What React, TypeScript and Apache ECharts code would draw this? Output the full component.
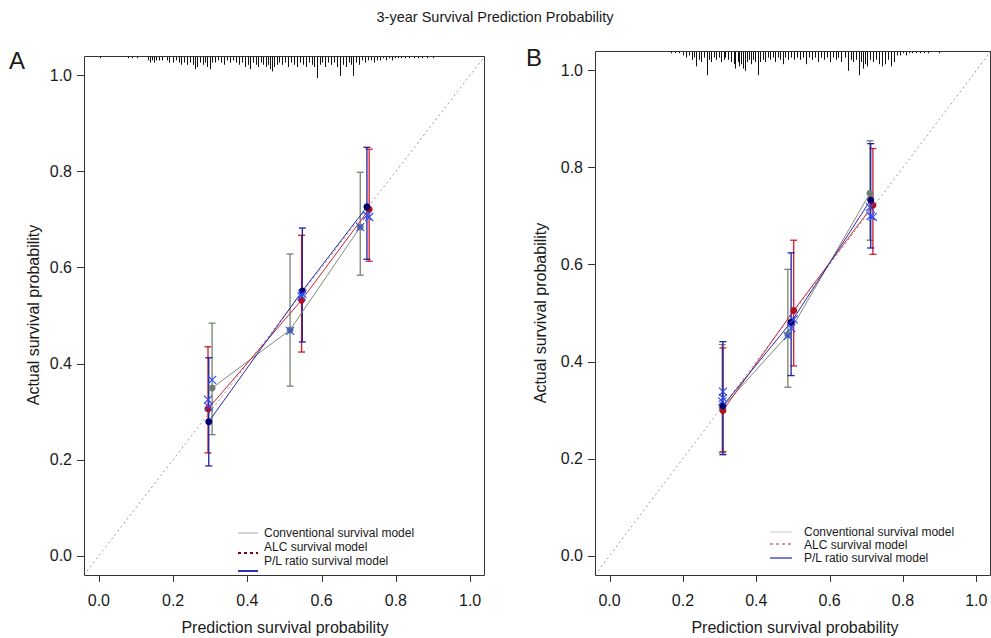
import React, { useEffect, useRef } from "react";
import * as echarts from "echarts";

// ---------- axis ----------
const tickValues = [0, 0.2, 0.4, 0.6, 0.8, 1.0];
const axisMin = -0.04;
const axisMax = 1.04;

// ---------- Panel A data ----------
const predA_conv = [0.305, 0.515, 0.704];
const obsA_conv = [0.349, 0.47, 0.684];
const loA_conv = [0.252, 0.353, 0.584];
const hiA_conv = [0.484, 0.628, 0.798];
const corrA_conv = [0.366, 0.468, 0.684];

const predA_alc = [0.294, 0.546, 0.728];
const obsA_alc = [0.306, 0.532, 0.721];
const loA_alc = [0.214, 0.424, 0.613];
const hiA_alc = [0.435, 0.667, 0.846];
const corrA_alc = [0.325, 0.54, 0.705];

const predA_pl = [0.296, 0.548, 0.722];
const obsA_pl = [0.279, 0.551, 0.726];
const loA_pl = [0.187, 0.445, 0.617];
const hiA_pl = [0.412, 0.682, 0.85];
const corrA_pl = [0.31, 0.545, 0.708];

// rug of predicted values (x, frequency)
const rugA_x = [0.003, 0.078, 0.089, 0.102, 0.132, 0.137, 0.143, 0.148, 0.154, 0.162, 0.17, 0.183, 0.189, 0.199, 0.208, 0.216, 0.221, 0.229, 0.237, 0.245, 0.253, 0.259, 0.264, 0.272, 0.28, 0.286, 0.291, 0.299, 0.305, 0.313, 0.321, 0.329, 0.337, 0.345, 0.353, 0.361, 0.369, 0.377, 0.385, 0.394, 0.402, 0.407, 0.415, 0.423, 0.429, 0.437, 0.442, 0.45, 0.456, 0.461, 0.466, 0.472, 0.48, 0.485, 0.493, 0.501, 0.509, 0.518, 0.526, 0.534, 0.542, 0.55, 0.558, 0.566, 0.574, 0.58, 0.588, 0.596, 0.601, 0.609, 0.617, 0.625, 0.633, 0.642, 0.65, 0.658, 0.666, 0.674, 0.679, 0.685, 0.693, 0.701, 0.709, 0.717, 0.725, 0.733, 0.741, 0.749, 0.757, 0.766, 0.774, 0.782, 0.79, 0.798, 0.806, 0.814, 0.825, 0.836, 0.849, 0.86, 0.871, 0.884, 0.9];
const rugA_n = [1, 1, 1, 1, 2, 3, 2, 3, 2, 2, 2, 2, 3, 3, 2, 3, 4, 3, 4, 3, 4, 6, 5, 3, 4, 3, 5, 6, 3, 3, 2, 3, 4, 2, 3, 2, 3, 4, 3, 5, 4, 6, 3, 4, 5, 3, 4, 5, 4, 6, 7, 5, 4, 3, 4, 3, 5, 3, 4, 5, 3, 4, 5, 3, 4, 5, 10, 4, 3, 5, 3, 4, 3, 5, 9, 4, 5, 3, 4, 9, 3, 4, 2, 3, 2, 2, 3, 2, 2, 1, 2, 1, 2, 1, 1, 1, 1, 1, 1, 1, 1, 1, 1];

// ---------- Panel B data ----------
const predB_conv = [0.307, 0.486, 0.71];
const obsB_conv = [0.305, 0.455, 0.747];
const loB_conv = [0.212, 0.347, 0.65];
const hiB_conv = [0.435, 0.59, 0.855];
const corrB_conv = [0.318, 0.453, 0.718];

const predB_alc = [0.309, 0.502, 0.718];
const obsB_alc = [0.299, 0.505, 0.722];
const loB_alc = [0.214, 0.391, 0.621];
const hiB_alc = [0.428, 0.65, 0.839];
const corrB_alc = [0.325, 0.487, 0.698];

const predB_pl = [0.309, 0.495, 0.712];
const obsB_pl = [0.309, 0.481, 0.733];
const loB_pl = [0.208, 0.371, 0.634];
const hiB_pl = [0.441, 0.624, 0.849];
const corrB_pl = [0.338, 0.469, 0.7];

const rugB_x = [0.168, 0.178, 0.189, 0.2, 0.208, 0.216, 0.224, 0.23, 0.235, 0.243, 0.249, 0.257, 0.265, 0.27, 0.276, 0.284, 0.289, 0.297, 0.303, 0.311, 0.316, 0.324, 0.33, 0.338, 0.343, 0.349, 0.354, 0.359, 0.365, 0.37, 0.376, 0.381, 0.386, 0.392, 0.397, 0.405, 0.411, 0.419, 0.424, 0.432, 0.438, 0.446, 0.451, 0.459, 0.465, 0.473, 0.478, 0.486, 0.495, 0.503, 0.511, 0.519, 0.527, 0.535, 0.543, 0.551, 0.559, 0.568, 0.576, 0.584, 0.592, 0.6, 0.608, 0.616, 0.624, 0.632, 0.641, 0.649, 0.657, 0.665, 0.673, 0.681, 0.686, 0.692, 0.697, 0.703, 0.711, 0.719, 0.727, 0.735, 0.743, 0.751, 0.759, 0.768, 0.776, 0.784, 0.792, 0.8, 0.808, 0.816, 0.824, 0.835, 0.846, 0.857, 0.868, 0.897];
const rugB_n = [1, 1, 1, 2, 3, 2, 4, 3, 7, 4, 5, 3, 11, 4, 5, 3, 4, 3, 5, 4, 3, 4, 5, 6, 8, 5, 7, 6, 8, 9, 5, 4, 6, 4, 5, 11, 5, 4, 5, 3, 4, 3, 5, 3, 4, 6, 3, 4, 3, 4, 3, 4, 3, 6, 3, 4, 3, 5, 3, 4, 3, 5, 3, 4, 3, 5, 3, 9, 4, 5, 4, 11, 5, 8, 6, 7, 4, 5, 4, 6, 7, 6, 4, 7, 5, 2, 2, 1, 2, 1, 1, 1, 1, 1, 1, 1];

const modelNames = ["Conventional survival model", "ALC survival model", "P/L ratio survival model"];

const FONT = "'Liberation Sans', Arial, Helvetica, sans-serif";
const TXT = "#1a1a1a";

const COL = {
  conv: { line: "#7f8b7f", bar: "#748474", pt: "#6f7f6f" },
  alc: { line: "#cc2233", bar: "#d01a2c", pt: "#b01020" },
  pl: { line: "#2a2aa8", bar: "#1f1f99", pt: "#000070" },
  cross: "#2f4cf5",
};

// plot boxes (pixel layout) and tick length
const TICK = 7;
const BOXES = [
  { left: 84, top: 56, width: 401, height: 519 },
  { left: 595, top: 51, width: 400, height: 524 },
];
// grids are extended by the tick length on the left and bottom so that tick marks lie inside them
const GRIDS = BOXES.map((b) => ({ left: b.left - TICK, top: b.top, width: b.width + TICK, height: b.height + TICK }));
const X_MIN = BOXES.map((b) => axisMin - (TICK * (axisMax - axisMin)) / b.width);
const Y_MIN = BOXES.map((b) => axisMin - (TICK * (axisMax - axisMin)) / b.height);

function zip(a: number[], b: number[]) {
  return a.map((v, i) => [v, b[i]]);
}
function zip3(a: number[], b: number[], c: number[]) {
  return a.map((v, i) => [v, b[i], c[i]]);
}

function errSeries(g: number, data: number[][], color: string) {
  return {
    type: "custom",
    xAxisIndex: g,
    yAxisIndex: g,
    data,
    z: 3,
    renderItem: (params: any, api: any) => {
      const x = api.value(0);
      const top = api.coord([x, api.value(2)]);
      const bot = api.coord([x, api.value(1)]);
      return {
        type: "group",
        children: [
          { type: "line", shape: { x1: top[0], y1: top[1], x2: bot[0], y2: bot[1] }, style: { stroke: color, lineWidth: 1.3 } },
          { type: "line", shape: { x1: top[0] - 3.5, y1: top[1], x2: top[0] + 3.5, y2: top[1] }, style: { stroke: color, lineWidth: 1.3 } },
          { type: "line", shape: { x1: bot[0] - 3.5, y1: bot[1], x2: bot[0] + 3.5, y2: bot[1] }, style: { stroke: color, lineWidth: 1.3 } },
        ],
      };
    },
  };
}

function crossSeries(g: number, data: number[][]) {
  return {
    type: "custom",
    xAxisIndex: g,
    yAxisIndex: g,
    data,
    z: 6,
    renderItem: (params: any, api: any) => {
      const p = api.coord([api.value(0), api.value(1)]);
      const s = 4;
      return {
        type: "group",
        children: [
          { type: "line", shape: { x1: p[0] - s, y1: p[1] - s, x2: p[0] + s, y2: p[1] + s }, style: { stroke: COL.cross, lineWidth: 1.2 } },
          { type: "line", shape: { x1: p[0] - s, y1: p[1] + s, x2: p[0] + s, y2: p[1] - s }, style: { stroke: COL.cross, lineWidth: 1.2 } },
        ],
      };
    },
  };
}

function rugSeries(g: number, xs: number[], ns: number[]) {
  return {
    type: "custom",
    xAxisIndex: g,
    yAxisIndex: g,
    data: zip(xs, ns),
    z: 7,
    renderItem: (params: any, api: any) => {
      const p = api.coord([api.value(0), axisMax]);
      const x = Math.round(p[0]) + 0.5;
      return {
        type: "line",
        shape: { x1: x, y1: p[1], x2: x, y2: p[1] + api.value(1) * 2.2 },
        style: { stroke: "#111", lineWidth: 1 },
      };
    },
  };
}

// plot frame and tick marks, placed through the axes' scales
function frameSeries(g: number) {
  return {
    type: "custom",
    xAxisIndex: g,
    yAxisIndex: g,
    data: tickValues.map((v) => [v, v]),
    z: 9,
    silent: true,
    renderItem: (params: any, api: any) => {
      const v = api.value(0);
      const px = api.coord([v, axisMin]);
      const py = api.coord([axisMin, v]);
      const children: any[] = [
        { type: "line", shape: { x1: Math.round(px[0]) + 0.5, y1: px[1], x2: Math.round(px[0]) + 0.5, y2: px[1] + TICK }, style: { stroke: "#333", lineWidth: 1 } },
        { type: "line", shape: { x1: py[0] - TICK, y1: Math.round(py[1]) + 0.5, x2: py[0], y2: Math.round(py[1]) + 0.5 }, style: { stroke: "#333", lineWidth: 1 } },
      ];
      if (params.dataIndex === 0) {
        const a = api.coord([axisMin, axisMin]);
        const b = api.coord([axisMax, axisMax]);
        children.push({
          type: "rect",
          shape: { x: Math.round(a[0]) + 0.5, y: Math.round(b[1]) + 0.5, width: Math.round(b[0] - a[0]) - 1, height: Math.round(a[1] - b[1]) },
          style: { stroke: "#333", lineWidth: 1, fill: "none" },
        });
      }
      return { type: "group", children };
    },
  };
}

function lineSeries(g: number, name: string, data: number[][], c: { line: string; pt: string }) {
  return {
    type: "line",
    name,
    xAxisIndex: g,
    yAxisIndex: g,
    data,
    z: 4,
    symbol: "circle",
    symbolSize: 7,
    itemStyle: { color: c.pt },
    lineStyle: { color: c.line, width: 1 },
  };
}

function diagSeries(g: number) {
  return {
    type: "line",
    xAxisIndex: g,
    yAxisIndex: g,
    data: [
      [axisMin, axisMin],
      [axisMax, axisMax],
    ],
    symbol: "none",
    z: 2,
    lineStyle: { color: "#9a9a9a", width: 1, type: [2, 3] },
  };
}

function xAxis(g: number) {
  return {
    type: "value",
    gridIndex: g,
    position: "bottom",
    min: X_MIN[g],
    max: axisMax,
    axisLine: { show: false, onZero: false },
    splitLine: { show: false },
    axisTick: { show: false },
    axisLabel: {
      customValues: tickValues,
      formatter: (v: number) => v.toFixed(1),
      margin: 10,
      fontSize: 16,
      fontFamily: FONT,
      color: TXT,
    },
  };
}
function yAxis(g: number) {
  return {
    type: "value",
    gridIndex: g,
    position: "left",
    min: Y_MIN[g],
    max: axisMax,
    axisLine: { show: false, onZero: false },
    splitLine: { show: false },
    axisTick: { show: false },
    axisLabel: {
      customValues: tickValues,
      formatter: (v: number) => v.toFixed(1),
      margin: 5,
      fontSize: 16,
      fontFamily: FONT,
      color: TXT,
    },
  };
}

function legend(x0: number, lineX1: number, lineX2: number, textYs: number[], lineYs: number[], cols: string[], dashed: boolean[], widths: number[]) {
  const els: any[] = [];
  modelNames.forEach((n, i) => {
    els.push({
      type: "line",
      shape: { x1: lineX1, y1: lineYs[i], x2: lineX2, y2: lineYs[i] },
      style: { stroke: cols[i], lineWidth: widths[i], lineDash: dashed[i] ? [3, 3] : null },
    });
    els.push({
      type: "text",
      x: x0,
      y: textYs[i],
      style: { text: n, fontSize: 12, fontFamily: FONT, fill: TXT, verticalAlign: "middle", align: "left" },
    });
  });
  return els;
}

export default function App() {
  const ref = useRef<HTMLDivElement>(null);
  useEffect(() => {
    if (!ref.current) return;
    const chart = echarts.init(ref.current, null, { renderer: "svg" });
    const option: any = {
      animation: false,
      backgroundColor: "#ffffff",
      grid: GRIDS.map((gr) => ({ ...gr, show: false })),
      xAxis: [xAxis(0), xAxis(1)],
      yAxis: [yAxis(0), yAxis(1)],
      series: [
        diagSeries(0),
        errSeries(0, zip3(predA_conv, loA_conv, hiA_conv), COL.conv.bar),
        errSeries(0, zip3(predA_alc, loA_alc, hiA_alc), COL.alc.bar),
        errSeries(0, zip3(predA_pl, loA_pl, hiA_pl), COL.pl.bar),
        lineSeries(0, modelNames[0], zip(predA_conv, obsA_conv), COL.conv),
        lineSeries(0, modelNames[1], zip(predA_alc, obsA_alc), COL.alc),
        lineSeries(0, modelNames[2], zip(predA_pl, obsA_pl), COL.pl),
        crossSeries(0, zip(predA_conv, corrA_conv)),
        crossSeries(0, zip(predA_alc, corrA_alc)),
        crossSeries(0, zip(predA_pl, corrA_pl)),
        rugSeries(0, rugA_x, rugA_n),
        frameSeries(0),

        diagSeries(1),
        errSeries(1, zip3(predB_conv, loB_conv, hiB_conv), COL.conv.bar),
        errSeries(1, zip3(predB_alc, loB_alc, hiB_alc), COL.alc.bar),
        errSeries(1, zip3(predB_pl, loB_pl, hiB_pl), COL.pl.bar),
        lineSeries(1, modelNames[0], zip(predB_conv, obsB_conv), COL.conv),
        lineSeries(1, modelNames[1], zip(predB_alc, obsB_alc), COL.alc),
        lineSeries(1, modelNames[2], zip(predB_pl, obsB_pl), COL.pl),
        crossSeries(1, zip(predB_conv, corrB_conv)),
        crossSeries(1, zip(predB_alc, corrB_alc)),
        crossSeries(1, zip(predB_pl, corrB_pl)),
        rugSeries(1, rugB_x, rugB_n),
        frameSeries(1),
      ],
      graphic: [
        { type: "text", x: 495, y: 17, style: { text: "3-year Survival Prediction Probability", fontSize: 14.5, fontFamily: FONT, fill: TXT, align: "center", verticalAlign: "middle" } },
        { type: "text", x: 9, y: 60, style: { text: "A", fontSize: 24, fontFamily: FONT, fill: TXT, align: "left", verticalAlign: "middle" } },
        { type: "text", x: 526, y: 57, style: { text: "B", fontSize: 24, fontFamily: FONT, fill: TXT, align: "left", verticalAlign: "middle" } },
        { type: "text", x: 33, y: 315, rotation: Math.PI / 2, style: { text: "Actual survival probability", fontSize: 16, fontFamily: FONT, fill: TXT, align: "center", verticalAlign: "middle" } },
        { type: "text", x: 540, y: 313, rotation: Math.PI / 2, style: { text: "Actual survival probability", fontSize: 16, fontFamily: FONT, fill: TXT, align: "center", verticalAlign: "middle" } },
        { type: "text", x: 285, y: 627, style: { text: "Prediction survival probability", fontSize: 16, fontFamily: FONT, fill: TXT, align: "center", verticalAlign: "middle" } },
        { type: "text", x: 795, y: 627, style: { text: "Prediction survival probability", fontSize: 16, fontFamily: FONT, fill: TXT, align: "center", verticalAlign: "middle" } },
        ...legend(264, 238, 258, [533, 547, 561], [533, 553, 571], ["#b8b8b8", "#8b0000", "#3030b0"], [false, true, false], [1.2, 2, 2]),
        ...legend(804, 770, 792, [532, 545, 558], [532, 544, 558], ["#c8c8c8", "#b03030", "#2020c0"], [false, true, false], [1, 1, 1.2]),
      ],
    };
    chart.setOption(option);
    return () => chart.dispose();
  }, []);
  return <div ref={ref} style={{ position: "absolute", left: 0, top: 0, width: 991, height: 638 }} />;
}
